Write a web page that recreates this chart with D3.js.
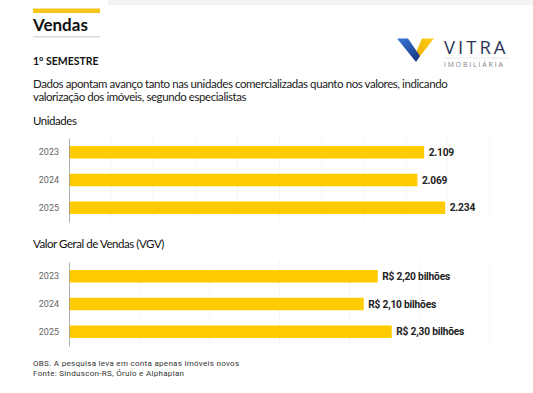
<!DOCTYPE html>
<html>
<head>
<meta charset="utf-8">
<script src="https://cdn.jsdelivr.net/npm/d3@7"></script>
<style>
  body { margin: 0; background: #fff; }
  svg { display: block; }
</style>
</head>
<body>
<div id="chart"></div>
<script>
// Add your JavaScript code here
const width = 533, height = 393;

const years = ["2023", "2024", "2025"];
const unidades = [2109, 2069, 2234];
const unidadesLabels = ["2.109", "2.069", "2.234"];
const vgv = [2.20, 2.10, 2.30];
const vgvLabels = ["R$ 2,20 bilhões", "R$ 2,10 bilhões", "R$ 2,30 bilhões"];
const unidadesTicks = d3.range(0, 2501, 250);
const vgvTicks = [0, 0.5, 1, 1.5, 2, 2.5, 3];

const barColor = "#fecb00";
const headFont = "Lato, 'Open Sans', sans-serif";
const chartFont = "Roboto, sans-serif";

let svg = d3.select("#chart")
    .append("svg")
    .attr("width", width)
    .attr("height", height);

// grey strip at top
svg.append("rect").attr("x", 108).attr("y", 0).attr("width", width - 108).attr("height", 5).attr("fill", "#f3f3f3");

// header
svg.append("rect").attr("x", 33).attr("y", 8.5).attr("width", 67).attr("height", 4.5).attr("fill", "#f5c518");
svg.append("text").attr("x", 33).attr("y", 30.5)
    .style("font-family", headFont).style("font-weight", "bold").style("font-size", "17px")
    .attr("fill", "#111").text("Vendas");
svg.append("line").attr("x1", 33).attr("x2", 100).attr("y1", 36.8).attr("y2", 36.8)
    .attr("stroke", "#bbb").attr("stroke-width", 0.8);

svg.append("text").attr("x", 33).attr("y", 64.5)
    .style("font-family", headFont).style("font-weight", "bold").style("font-size", "10.5px")
    .attr("fill", "#111").text("1° SEMESTRE");

let desc = svg.append("text")
    .style("font-family", headFont).style("font-size", "11.5px")
    .style("letter-spacing", "-0.42px")
    .attr("fill", "#222");
desc.append("tspan").attr("x", 33).attr("y", 88)
    .text("Dados apontam avanço tanto nas unidades comercializadas quanto nos valores, indicando");
desc.append("tspan").attr("x", 33).attr("y", 100.5)
    .text("valorização dos imóveis, segundo especialistas");

// logo
let logo = svg.append("g");
let defs = svg.append("defs");
let gBlue = defs.append("linearGradient").attr("id", "gblue")
    .attr("x1", "0").attr("y1", "0").attr("x2", "1").attr("y2", "1");
gBlue.append("stop").attr("offset", "0").attr("stop-color", "#3a7ddb");
gBlue.append("stop").attr("offset", "1").attr("stop-color", "#15307c");
let gYel = defs.append("linearGradient").attr("id", "gyel")
    .attr("x1", "1").attr("y1", "0").attr("x2", "0").attr("y2", "1");
gYel.append("stop").attr("offset", "0").attr("stop-color", "#ffd21a");
gYel.append("stop").attr("offset", "1").attr("stop-color", "#eaa600");
logo.append("path").attr("d", "M422,38.5 L434,38.5 L417,60 L414,57 Z").attr("fill", "url(#gyel)");
logo.append("path").attr("d", "M397,38.5 L408,38.5 L420,56 L416,62 Z").attr("fill", "url(#gblue)");
logo.append("text").attr("x", 444).attr("y", 54)
    .style("font-family", "'Open Sans', sans-serif").style("font-size", "18.5px")
    .style("letter-spacing", "3px")
    .attr("fill", "#2b3656").text("VITRA");
logo.append("line").attr("x1", 444).attr("x2", 510).attr("y1", 58).attr("y2", 58)
    .attr("stroke", "#d8d8d8").attr("stroke-width", 0.6);
logo.append("text").attr("x", 444).attr("y", 67.3)
    .style("font-family", "'Open Sans', sans-serif").style("font-size", "6.8px")
    .style("letter-spacing", "1.9px")
    .attr("fill", "#808080").text("IMOBILIÁRIA");

function drawBars(title, titleY, top, bottom, values, labels, maxVal, ticks) {
    svg.append("text").attr("x", 33).attr("y", titleY)
        .style("font-family", headFont).style("font-size", "11.5px")
        .style("letter-spacing", "-0.45px")
        .attr("fill", "#111").text(title);

    let x = d3.scaleLinear().domain([0, maxVal]).range([69, 490]);
    let y = d3.scaleBand().domain(years).range([top, bottom]).paddingInner(0.55).paddingOuter(0.29);

    let g = svg.append("g");

    // gridlines
    g.selectAll("line.grid").data(ticks.slice(1))
        .enter().append("line")
        .attr("class", "grid")
        .attr("x1", d => x(d)).attr("x2", d => x(d))
        .attr("y1", top).attr("y2", bottom)
        .attr("stroke", "#ebebeb").attr("stroke-width", 0.8)
        .attr("stroke-dasharray", "2,2");

    let data = years.map((yr, i) => ({year: yr, value: values[i], label: labels[i]}));

    g.selectAll("rect").data(data)
        .enter().append("rect")
        .attr("x", x(0))
        .attr("y", d => y(d.year))
        .attr("width", d => x(d.value) - x(0))
        .attr("height", y.bandwidth())
        .attr("fill", barColor);

    let axis = g.append("g")
        .attr("transform", `translate(${x(0)},0)`)
        .call(d3.axisLeft(y).tickSize(0).tickPadding(10));
    axis.select(".domain").attr("stroke", "#999").attr("stroke-width", 0.8);
    axis.selectAll("text")
        .style("font-family", chartFont).style("font-size", "9px")
        .attr("fill", "#666");

    g.selectAll("text.val").data(data)
        .enter().append("text")
        .attr("class", "val")
        .attr("x", d => x(d.value) + 4.5)
        .attr("y", d => y(d.year) + y.bandwidth() / 2)
        .attr("dy", "0.35em")
        .style("font-family", chartFont).style("font-weight", "bold").style("font-size", "10.2px")
        .style("letter-spacing", "-0.2px")
        .attr("fill", "#222")
        .text(d => d.label);
}

drawBars("Unidades", 125, 138, 222, unidades, unidadesLabels, 2500, unidadesTicks);
drawBars("Valor Geral de Vendas (VGV)", 248, 262, 346, vgv, vgvLabels, 3, vgvTicks);

// footer
svg.append("text").attr("x", 33).attr("y", 366)
    .style("font-family", chartFont).style("font-size", "8px")
    .style("letter-spacing", "0.3px")
    .attr("fill", "#333").text("OBS. A pesquisa leva em conta apenas imóveis novos");
svg.append("text").attr("x", 33).attr("y", 376)
    .style("font-family", chartFont).style("font-size", "8px")
    .style("letter-spacing", "0.3px")
    .attr("fill", "#333").text("Fonte: Sinduscon-RS, Órulo e Alphaplan");
</script>
</body>
</html>
